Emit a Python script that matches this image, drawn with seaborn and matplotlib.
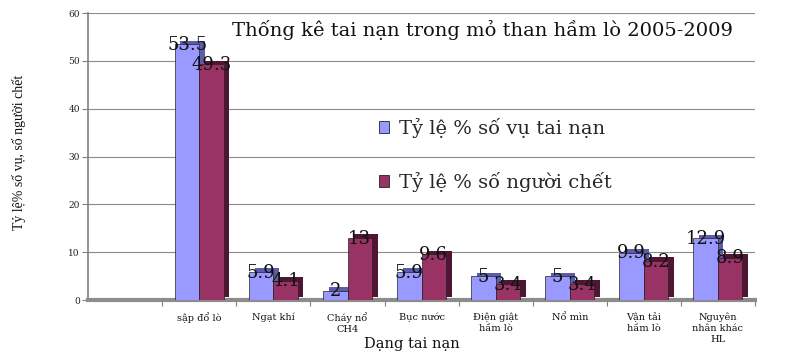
import matplotlib
matplotlib.use("Agg")
import matplotlib.pyplot as plt
import matplotlib.patheffects as pe
from matplotlib.ticker import FixedLocator
import seaborn as sns
import pandas as pd

# Accident categories (x axis)
categories = ["sập đổ lò", "Ngạt khí", "Cháy nổ\nCH4", "Bục nước",
              "Điện giật\nhầm lò", "Nổ mìn", "Vận tải\nhầm lò",
              "Nguyên\nnhân khác\nHL"]
# Share of accidents (%)
pct_accidents = [53.5, 5.9, 2, 5.9, 5, 5, 9.9, 12.9]
# Share of fatalities (%)
pct_deaths = [49.3, 4.1, 13, 9.6, 3.4, 3.4, 8.2, 8.9]

series_names = ["Tỷ lệ % số vụ tai nạn", "Tỷ lệ % số người chết"]
y_ticks = [0, 10, 20, 30, 40, 50, 60]

title = "Thống kê tai nạn trong mỏ than hầm lò 2005-2009"
x_title = "Dạng tai nạn"
y_title = "Tỷ lệ% số vụ, số người chết"

df = pd.DataFrame({
    "cat": categories * 2,
    "val": pct_accidents + pct_deaths,
    "series": [series_names[0]] * len(categories) + [series_names[1]] * len(categories),
})

sns.set_theme(style="white")
plt.rcParams["font.family"] = ["DejaVu Serif"]

face_colors = ["#9999FF", "#993366"]
side_colors = ["#5c5ca8", "#4f1533"]

fig = plt.figure(figsize=(7.88, 3.56), dpi=100)
ax = fig.add_axes([0.112, 0.157, 0.846, 0.806])

sns.barplot(data=df, x="cat", y="val", hue="series", order=categories,
            hue_order=series_names, palette=face_colors, saturation=1,
            width=0.66, edgecolor="#222222", linewidth=0.5, ax=ax, zorder=3)

# pseudo-depth: a darker offset copy behind each bar, plus value labels
for cont, side in zip(ax.containers, side_colors):
    for bar in cont:
        bar.set_path_effects([
            pe.SimplePatchShadow(offset=(4, 2.5), shadow_rgbFace=side, alpha=1),
            pe.Normal(),
        ])
    ax.bar_label(cont, fmt="%g", padding=-7, fontsize=13, color="#111111",
                 zorder=5)

ax.set_xlim(-1.5, 7.5)
ax.set_ylim(0, 60)
ax.set_yticks(y_ticks)
ax.set_yticklabels([str(v) for v in y_ticks], fontsize=6.5, color="#222222")
ax.tick_params(axis="y", length=4, width=0.8, color="#808080", pad=2, left=True)

ax.set_xticks(range(len(categories)))
ax.set_xticklabels(categories, fontsize=7, color="#111111", linespacing=1.25)
ax.tick_params(axis="x", length=0, pad=9)
ax.xaxis.set_minor_locator(FixedLocator([i - 0.5 for i in range(len(categories) + 1)]))
ax.tick_params(axis="x", which="minor", length=4, width=0.8, color="#808080",
               bottom=True, direction="out")

ax.yaxis.grid(True, color="#8a8a8a", linewidth=0.8)
ax.xaxis.grid(False)
ax.set_axisbelow(True)

for s in ["top", "right"]:
    ax.spines[s].set_visible(False)
ax.spines["left"].set_color("#808080")
ax.spines["left"].set_linewidth(1.2)
ax.spines["bottom"].set_color("#8c8c8c")
ax.spines["bottom"].set_linewidth(3)

ax.set_xlabel("")
ax.set_ylabel("")

leg = ax.legend(loc="upper left", bbox_to_anchor=(0.468, 0.696),
                bbox_transform=fig.transFigure, frameon=False, fontsize=14,
                handlelength=0.55, handleheight=0.55, handletextpad=0.5,
                labelspacing=1.75, borderpad=0)
for h in leg.legend_handles:
    h.set_path_effects([])
    h.set_edgecolor("#222222")
    h.set_linewidth(0.6)

fig.text(0.294, 0.915, title, fontsize=14, ha="left", va="center", color="#111111")
fig.text(0.523, 0.035, x_title, fontsize=10.5, ha="center", va="center", color="#111111")
fig.text(0.024, 0.573, y_title, fontsize=10, rotation=90, ha="center", va="center",
         family=["Liberation Serif", "DejaVu Serif"], color="#111111")

fig.savefig("out.png", dpi=100, facecolor="white")
